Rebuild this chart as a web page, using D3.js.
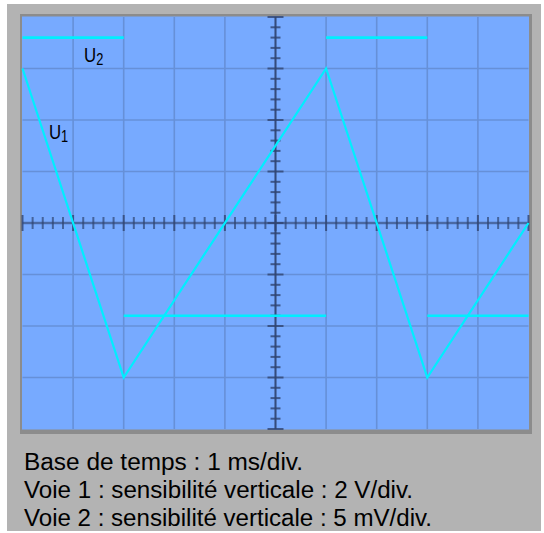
<!DOCTYPE html>
<html>
<head>
<meta charset="utf-8">
<script src="https://cdn.jsdelivr.net/npm/d3@7"></script>
<style>
  html, body { margin: 0; padding: 0; background: #ffffff; }
  svg { display: block; }
</style>
</head>
<body>
<svg id="scope" width="544" height="533"></svg>
<script>
// Time base: 1 ms/div, 10 divisions across the screen
const timeMs = [0, 2, 6, 8, 10];
// Channel 1 (2 V/div): triangular voltage u1, in volts
const u1Volts = [6, -6, 6, -6, 0];
// Channel 2 (5 mV/div): square voltage u2, one constant level per interval
const u2StartMs = [0, 2, 6, 8];
const u2EndMs = [2, 6, 8, 10];
const u2MilliVolts = [18, -9, 18, -9];
// Settings printed under the screen
const captionLines = [
  "Base de temps : 1 ms/div.",
  "Voie 1 : sensibilité verticale : 2 V/div.",
  "Voie 2 : sensibilité verticale : 5 mV/div."
];
const captionWidths = [279, 389, 408];

const svg = d3.select("#scope");

// Screen geometry
const scrLeft = 22.5, scrRight = 528.5, scrTop = 17, scrBottom = 429;
const xDivs = 10, yDivs = 8;

const x = d3.scaleLinear().domain([0, 10]).range([scrLeft, scrRight]);
const y1 = d3.scaleLinear().domain([-8, 8]).range([scrBottom, scrTop]);
const y2 = d3.scaleLinear().domain([-20, 20]).range([scrBottom, scrTop]);
const xDiv = d3.scaleLinear().domain([0, xDivs]).range([scrLeft, scrRight]);
const yDiv = d3.scaleLinear().domain([-yDivs / 2, yDivs / 2]).range([scrBottom, scrTop]);

// Instrument panel
svg.append("rect").attr("x", 7).attr("y", 4).attr("width", 534).attr("height", 527)
  .attr("fill", "#b3b3b3");
// Bezel around the screen
svg.append("rect").attr("x", 20).attr("y", 14).attr("width", 512).attr("height", 420)
  .attr("fill", "#8c8c8c");
svg.append("rect").attr("x", 22).attr("y", 16.5).attr("width", 507).attr("height", 413)
  .attr("fill", "#77aaff");

// Graticule
const grid = svg.append("g").attr("stroke", "#6690d8").attr("stroke-width", 1.6);
d3.range(1, xDivs).forEach(i => {
  grid.append("line").attr("x1", xDiv(i)).attr("x2", xDiv(i))
    .attr("y1", scrTop).attr("y2", scrBottom);
});
d3.range(-yDivs / 2 + 1, yDivs / 2).forEach(j => {
  grid.append("line").attr("y1", yDiv(j)).attr("y2", yDiv(j))
    .attr("x1", scrLeft).attr("x2", scrRight);
});

// Central axes with sub-division ticks (5 per division)
const axes = svg.append("g").attr("stroke", "#2f4471");
const cx = xDiv(xDivs / 2), cy = yDiv(0);
axes.append("line").attr("x1", scrLeft).attr("x2", scrRight).attr("y1", cy).attr("y2", cy)
  .attr("stroke-width", 2.5).attr("stroke-opacity", 0.55);
axes.append("line").attr("x1", cx).attr("x2", cx).attr("y1", scrTop).attr("y2", scrBottom)
  .attr("stroke-width", 2).attr("stroke-opacity", 0.9);
d3.range(0, xDivs * 5 + 1).forEach(k => {
  const major = k % 5 === 0;
  const h = major ? 8 : 6;
  axes.append("line").attr("x1", xDiv(k / 5)).attr("x2", xDiv(k / 5))
    .attr("y1", cy - h).attr("y2", cy + h)
    .attr("stroke-width", 2).attr("stroke-opacity", major ? 0.8 : 0.7);
});
d3.range(0, yDivs * 5 + 1).forEach(k => {
  const v = -yDivs / 2 + k / 5;
  const major = k % 5 === 0;
  const w = major ? 8 : 5;
  axes.append("line").attr("y1", yDiv(v)).attr("y2", yDiv(v))
    .attr("x1", cx - w).attr("x2", cx + w)
    .attr("stroke-width", 2).attr("stroke-opacity", 0.8);
});

// Trace u1
const u1Points = timeMs.map((t, i) => [t, u1Volts[i]]);
svg.append("path")
  .datum(u1Points)
  .attr("d", d3.line().x(d => x(d[0])).y(d => y1(d[1])))
  .attr("fill", "none").attr("stroke", "#00eeff").attr("stroke-width", 2.2);

// Trace u2 (horizontal levels only)
svg.append("g").selectAll("line")
  .data(u2MilliVolts)
  .join("line")
  .attr("x1", (d, i) => x(u2StartMs[i]))
  .attr("x2", (d, i) => x(u2EndMs[i]))
  .attr("y1", d => y2(d)).attr("y2", d => y2(d))
  .attr("stroke", "#00eeff").attr("stroke-width", 2.6);

// Trace labels
function traceLabel(px, py, idx) {
  const t = svg.append("text").attr("x", px).attr("y", py)
    .attr("font-family", "Liberation Sans, Arial, sans-serif")
    .attr("font-size", 21).attr("fill", "#000")
    .attr("transform", `translate(${px},0) scale(0.8,1) translate(${-px},0)`);
  t.append("tspan").text("U");
  t.append("tspan").attr("dy", 3).attr("font-size", 16).text(idx);
}
traceLabel(84, 62, "2");
traceLabel(49, 139, "1");

// Caption
svg.append("g").selectAll("text")
  .data(captionLines)
  .join("text")
  .attr("x", 24)
  .attr("y", (d, i) => 470 + i * 28)
  .attr("font-family", "Liberation Sans, Arial, sans-serif")
  .attr("font-size", 23)
  .attr("fill", "#000")
  .attr("textLength", (d, i) => captionWidths[i])
  .attr("lengthAdjust", "spacingAndGlyphs")
  .text(d => d);
</script>
</body>
</html>
